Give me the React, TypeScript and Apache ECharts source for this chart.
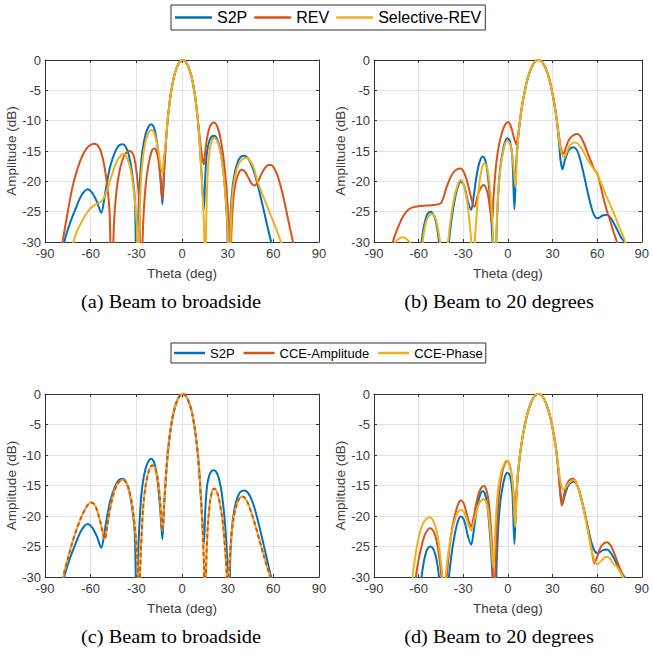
import React, { useEffect, useRef } from "react";
import * as echarts from "echarts";

type P = [number, number];

// ---------- axis ranges / ticks ----------
const thetaRange = { min: -90, max: 90, step: 30 };
const ampRange = { min: -30, max: 0, step: 5 };

// ---------- legends & captions ----------
const legendTopNames = ["S2P", "REV", "Selective-REV"];
const legendBottomNames = ["S2P", "CCE-Amplitude", "CCE-Phase"];
const captions = [
  "(a) Beam to broadside",
  "(b) Beam to 20 degrees",
  "(c) Beam to broadside",
  "(d) Beam to 20 degrees",
];

// ---------- main lobes (shared) ----------
const mainLobeBroadside: P[] = [
  [-10.5, -13.3], [-9.5, -10.1], [-8.5, -7.8], [-7.5, -5.8], [-5.5, -3.0], [-3.5, -1.3],
  [-1.5, -0.3], [0.5, 0], [2.5, -0.3], [4.5, -1.3], [6.5, -3.0], [8.5, -5.8], [9.5, -7.8], [10.5, -10.1],
];
const mainLobe20: P[] = [
  [7.5, -11.3], [8.5, -9.3], [9.5, -7.6], [10.5, -6.2], [12.5, -3.8], [14.5, -2.1], [16.5, -0.9],
  [18.5, -0.2], [20.3, 0], [22.5, -0.2], [24.5, -0.9], [26.5, -2.1], [28.5, -3.8], [30.5, -6.2],
];

// ---------- broadside (a, c) ----------
const s2pBroadLeft: P[] = [
  [-80, -35], [-77.3, -30], [-74, -27.2], [-70, -24.6], [-66, -22.3], [-62, -21.3], [-59, -21.9],
  [-56, -23.3], [-53, -25.2], [-51, -22.8], [-49, -19.8], [-47, -17.4], [-44, -15.2], [-41.5, -14.1],
  [-39, -13.9], [-37, -14.3], [-35, -15.6], [-33, -18.2], [-31, -23], [-29.6, -40], [-28.6, -25],
  [-27.3, -18.5], [-26, -15], [-24, -12.3], [-22, -11], [-20.2, -10.6], [-18.5, -11.1], [-17, -12.6],
  [-15.5, -15.5], [-14, -20], [-12.9, -23.8], [-11.8, -18.5],
];
const s2pBroadRight: P[] = [
  [11.5, -13.3], [12.5, -17.3], [13.5, -21.5], [14.4, -24.6], [15.3, -19], [16.5, -15], [18, -13.3],
  [19.5, -12.6], [21, -12.5], [22.5, -12.8], [24, -13.7], [25.5, -15.3], [27, -18], [28.5, -22],
  [29.8, -28], [30.7, -42], [31.6, -28], [32.8, -22], [34.5, -18.8], [36.5, -16.9], [38.5, -16],
  [41, -15.8], [43, -16.1], [45, -16.9], [47, -18.2], [49, -19.9], [51, -21.9], [53, -24], [55, -26.2],
  [57, -28.4], [59, -30.5], [61, -33],
];
const revBroadLeft: P[] = [
  [-80, -34], [-78.4, -30], [-75, -25], [-72, -21], [-69, -18.2], [-66, -16.1], [-63, -14.7],
  [-60, -14.0], [-57.3, -13.8], [-55, -14.2], [-53, -15.3], [-51, -17.5], [-49, -21], [-47.5, -25.5],
  [-46.2, -40], [-44.7, -27], [-43, -21.5], [-41, -18.3], [-39, -16.4], [-37, -15.4], [-34.4, -15.0],
  [-32, -15.6], [-30.5, -17.3], [-29, -20.5], [-28, -24], [-27.2, -40], [-25.5, -27], [-24, -21],
  [-22, -17.2], [-20, -15.1], [-18.4, -14.6], [-17, -14.9], [-15.5, -16.5], [-14, -19.8], [-12.9, -23],
  [-11.8, -18.5],
];
const revBroadRight: P[] = [
  [11.5, -12.5], [12.5, -14.6], [13.5, -16.4], [14.4, -17.2], [15.3, -15], [16.5, -12.8], [18, -11.2],
  [19.5, -10.5], [21, -10.3], [22.5, -10.6], [24, -11.6], [25.5, -13.2], [27, -15.6], [28.5, -19],
  [30, -24], [31, -29], [31.6, -42], [32.4, -29], [33.5, -23.5], [35, -20.5], [37, -18.8], [39, -18.1],
  [41, -18.3], [43, -19.1], [45.5, -20.3], [47.8, -20.7], [50, -20], [52, -18.9], [54.5, -17.8],
  [57, -17.3], [58.5, -17.3], [60.5, -17.8], [62.5, -18.9], [64.5, -20.5], [66.5, -22.5], [68.5, -24.8],
  [70.5, -27.2], [72.5, -29.5], [74, -31.5], [76, -34],
];
const selBroadLeft: P[] = [
  [-74, -34], [-71.3, -30], [-69, -28.2], [-67, -27.2], [-64, -25.8], [-61, -24.7], [-58, -24],
  [-55, -23.6], [-53, -23.3], [-51, -22.6], [-49, -21.3], [-47, -19.7], [-45, -18.1], [-43, -16.8],
  [-40.5, -15.8], [-38.4, -15.5], [-36, -16.2], [-34, -17.8], [-32, -20.8], [-30.5, -24.5],
  [-29.6, -28], [-28.9, -40], [-28.2, -28], [-27.2, -21], [-26, -16.8], [-24, -13.5], [-22, -12],
  [-20.2, -11.5], [-18.5, -11.9], [-17, -13.1], [-15.5, -15], [-14, -17.5], [-12.9, -18.7], [-12, -16.3],
];
const selBroadRight: P[] = [
  [11.5, -13.3], [12.5, -17.3], [13.5, -22], [14.5, -28], [15.1, -42], [15.8, -28], [16.8, -19],
  [18, -15.2], [19.5, -13.4], [21.1, -12.8], [22.5, -13.1], [24, -14], [25.5, -15.6], [27, -18.2],
  [28.5, -22], [30, -28], [31.1, -42], [32, -28], [33.2, -22], [35, -19], [37, -17.3], [39.5, -16.4],
  [42.2, -16.1], [44.5, -16.5], [47, -17.7], [49.5, -19.9], [52, -21.6], [55, -23.5], [58, -25.4],
  [61, -27.3], [64, -29.3], [66, -30.6], [68, -32],
];
const cceBroadLeft: P[] = [
  [-80, -34], [-78, -30], [-75, -27], [-72, -24.3], [-69, -22], [-66, -20.1], [-63, -18.6],
  [-60, -17.8], [-57.5, -18.1], [-55.5, -19.3], [-53.5, -21.1], [-50.7, -23.8], [-49, -21.5],
  [-47.5, -19.2], [-45.5, -16.8], [-43, -15.0], [-40.5, -14.2], [-38.4, -14.1], [-36.5, -14.6],
  [-34.5, -16], [-32.5, -18.6], [-30.5, -23], [-29.2, -28], [-28.4, -42], [-27.5, -29], [-26.9, -25],
  [-25.5, -18.5], [-24, -15.2], [-22, -12.8], [-19.6, -11.7], [-17.5, -12.3], [-16, -13.8],
  [-14.5, -17], [-12.9, -22.4], [-11.8, -18.3],
];
const cceBroadRight: P[] = [
  [11.5, -13.3], [12.5, -17.3], [13.5, -22], [14.4, -28], [15.1, -42], [15.9, -28], [17, -21.5],
  [18.5, -17.5], [20, -15.8], [21.1, -15.5], [22.5, -15.8], [24, -16.9], [25.5, -18.8], [27, -21.5],
  [28.5, -26], [29.4, -30], [30, -42], [30.8, -30], [32, -24.5], [33.5, -21], [35.5, -18.5],
  [37.5, -17.2], [39.6, -16.8], [41.5, -17.1], [43.5, -18], [45.5, -19.4], [47.5, -21], [49.5, -22.7],
  [51.5, -24.5], [53.5, -26.3], [55.5, -28], [58.2, -30.2], [60, -32],
];

// ---------- beam to 20 degrees (b, d) ----------
const s2p20Left: P[] = [
  [-60, -42], [-58.5, -32], [-58, -30], [-57, -28.2], [-56, -26.9], [-54.5, -25.6], [-53, -25.1],
  [-51.8, -25.0], [-50.5, -25.3], [-49, -26.1], [-47.5, -27.8], [-46.3, -30], [-45, -34], [-42.5, -45],
  [-40.5, -33], [-39.6, -30], [-38, -26.5], [-36, -23.4], [-34, -21.2], [-31.8, -20.1], [-30, -20.4],
  [-28.5, -21.5], [-27, -23.2], [-24.7, -24.7], [-23, -22.5], [-21, -19], [-19, -16.8], [-17, -15.9],
  [-15.5, -16.3], [-14, -18], [-12.5, -21.5], [-11, -27], [-10, -32], [-9.1, -45], [-7.8, -30],
  [-6.5, -22], [-5, -17.5], [-3, -14.5], [-1.5, -13.2], [-0.3, -12.9], [1.5, -13.5], [3, -16],
  [4.4, -24.6], [5.5, -17.5], [6.5, -14],
];
const s2p20Right: P[] = [
  [31.5, -7.6], [32.5, -9.3], [33.5, -11.4], [34.5, -14], [35.5, -16.7], [36.7, -18], [38, -16.8],
  [40, -15.3], [42, -14.6], [44.4, -14.4], [46.5, -14.9], [48.5, -16.3], [50.5, -18.3], [52.5, -20.5],
  [54.5, -22.7], [56.5, -24.6], [58.5, -25.8], [60.4, -26.1], [62, -25.9], [64, -25.6], [66.7, -25.5],
  [69, -26], [71, -26.8], [73.3, -27.9], [76, -29.2], [78.9, -30.2], [81, -31.5],
];
const rev20Left: P[] = [
  [-80, -34], [-77.3, -30], [-75, -28.3], [-72.5, -26.8], [-70, -25.6], [-67, -24.7], [-64, -24.3],
  [-60, -24.1], [-55, -24.0], [-50, -23.9], [-47, -23.8], [-45, -23.6], [-43.5, -22.8], [-41.5, -21.2],
  [-39, -19.6], [-36.5, -18.5], [-34, -18], [-31.8, -17.9], [-30, -18.3], [-28, -19.5], [-26, -21.4],
  [-24, -23.4], [-22.4, -24.2], [-20.5, -22.5], [-18.5, -21.2], [-16.2, -20.6], [-14.5, -21.2],
  [-13, -22.8], [-11.5, -25.5], [-10.7, -26.8], [-9.5, -22], [-8, -17.5], [-6, -14], [-4, -12],
  [-2, -10.7], [0, -10.2], [1.5, -10.6], [3, -11.8], [4.5, -13.2], [5.6, -13.9], [6.6, -12.8],
];
const rev20Right: P[] = [
  [31.5, -7.6], [32.5, -9.2], [33.5, -11], [34.5, -12.8], [35.5, -14.4], [37.3, -15.5], [39, -14.4],
  [41, -13.2], [43.5, -12.5], [46.2, -12.2], [48.5, -12.5], [50.5, -13.4], [52.5, -14.6], [54.5, -15.9],
  [56.5, -17.1], [58.5, -18.2], [60, -18.6], [62, -20.4], [64.4, -22.9], [66.5, -24.8], [68.9, -26.6],
  [71, -28.3], [73.3, -30], [75, -31.5],
];
const sel20Left: P[] = [
  [-78, -34], [-75.5, -30], [-73, -29.4], [-70.5, -29.2], [-68, -29.5], [-65.5, -30.3], [-63, -33],
  [-60, -45], [-58, -33], [-57.3, -30], [-56, -27.8], [-54.5, -26.3], [-52.5, -25.5], [-50.7, -25.4],
  [-49, -25.9], [-47.5, -27.2], [-46, -29.3], [-45.1, -31], [-43.5, -40], [-41.5, -33], [-40.2, -30],
  [-38.5, -26.3], [-36.5, -23.2], [-34, -20.8], [-31.8, -19.8], [-30, -20.3], [-28.5, -21.8],
  [-27, -24], [-25.5, -27.5], [-24.5, -30.5], [-23.5, -42], [-22.2, -30], [-21, -25.5], [-19.5, -21],
  [-17.5, -17.9], [-15.8, -17.0], [-14, -17.7], [-12.5, -20], [-11, -24.5], [-10, -29], [-9.1, -42],
  [-7.8, -29], [-6.5, -22], [-5, -17.8], [-3, -14.9], [-1.5, -13.6], [-0.5, -13.3], [1.5, -13.9],
  [3, -15.8], [4.2, -18.7], [5.1, -21], [6, -16], [6.8, -13.2],
];
const sel20Right: P[] = [
  [31.5, -7.6], [32.5, -9.3], [33.5, -11.2], [34.5, -13.2], [35.5, -14.8], [37.8, -16.1], [39.5, -15.2],
  [41.5, -14.2], [43.5, -13.7], [45.6, -13.6], [47.5, -13.9], [49.5, -14.6], [52, -15.7], [54.5, -16.8],
  [57, -17.7], [60, -18.8], [63, -20.5], [66, -22.3], [69, -24], [71.1, -25.2], [74, -27], [76.5, -28.5],
  [78.9, -30], [81, -31.5],
];
const cceAmp20Left: P[] = [
  [-64, -40], [-61.8, -30], [-60, -27.2], [-58, -24.9], [-56, -23.2], [-54, -22.3], [-52.4, -22.0],
  [-50.5, -22.3], [-48.5, -23.5], [-47, -25.3], [-45.5, -28], [-44.7, -30], [-43.3, -40], [-42, -33],
  [-41.1, -30], [-39.5, -25.8], [-37.5, -22], [-35, -19.3], [-33, -17.8], [-31.8, -17.4], [-30, -17.8],
  [-28.5, -18.8], [-27, -20.3], [-24.7, -21.8], [-23, -20.2], [-21, -17.6], [-19, -15.9], [-16.2, -15.1],
  [-14.5, -15.7], [-13, -17.5], [-11.5, -21.5], [-10.3, -27], [-9.4, -40], [-8.3, -28], [-7, -20],
  [-5.5, -15.5], [-3.5, -12.5], [-1.5, -11.2], [-0.5, -11.0], [1, -11.5], [2.5, -13.2], [3.8, -16.5],
  [4.9, -21.5], [5.8, -16.5], [6.6, -13.5],
];
const cceAmp20Right: P[] = [
  [31.5, -7.6], [32.5, -9.3], [33.5, -11.4], [34.5, -14], [35.3, -16.5], [36.2, -18.3], [37.2, -17.3],
  [38.5, -15.6], [40.5, -14.4], [42, -14], [43.8, -13.9], [45.5, -14.3], [47.5, -15.6], [49.5, -17.3],
  [52.2, -20.2], [54.5, -23], [56.5, -25.8], [58.2, -27.8], [60, -26.7], [62, -25.3], [64, -24.6],
  [66.7, -24.3], [69, -24.8], [71, -25.8], [73, -27.1], [75, -28.4], [77, -29.6], [78.9, -30.8], [81, -32],
];
const ccePh20Left: P[] = [
  [-66, -40], [-64, -30], [-62, -26.2], [-60, -23.6], [-58, -21.8], [-56, -20.8], [-54, -20.3],
  [-52.4, -20.2], [-50.5, -20.6], [-48.5, -21.9], [-47, -23.6], [-45.5, -26.5], [-44, -30], [-43, -40],
  [-42.5, -34], [-41.8, -30], [-40, -26], [-38, -23], [-35.5, -20.5], [-33.5, -19.3], [-31.3, -19.0],
  [-29.5, -19.4], [-28, -20.3], [-26.5, -21.5], [-24.7, -22.4], [-23, -21.1], [-21, -19.1], [-19, -17.8],
  [-16.2, -17.2], [-14.5, -17.8], [-13, -19.6], [-11.7, -23], [-10.5, -27], [-9.8, -28.5], [-9, -25.5],
  [-8, -20], [-6.5, -15.5], [-4.5, -12.8], [-2.5, -11.4], [-1, -10.9], [0.5, -11.2], [2, -12.5],
  [3.5, -15.3], [4.9, -21.8], [5.8, -16.3], [6.6, -13.4],
];
const ccePh20Right: P[] = [
  [31.5, -7.6], [32.5, -9.3], [33.5, -11.2], [34.5, -13], [35.5, -14.6], [37.3, -15.7], [39, -15.3],
  [41, -14.6], [44, -14.1], [46, -14.6], [48, -16], [50, -17.8], [52.2, -20.5], [54.5, -23.4],
  [56.5, -25.8], [58.5, -27.5], [60.4, -27.9], [62.5, -27.4], [64.5, -26.9], [66.7, -26.7], [69, -27.1],
  [71, -27.9], [73, -28.2], [75, -29.0], [77.8, -30.2], [80, -31.5],
];

const BLUE = "#0072BD";
const RED = "#D95319";
const YELLOW = "#EDB120";
const AX = "#333333";
const LABEL = "#3c3c3c";
const FONT = "'Liberation Sans', Arial, Helvetica, sans-serif";

const grids = [
  { left: 45, top: 60, width: 274, height: 182 },
  { left: 374, top: 60, width: 273, height: 182 },
  { left: 45, top: 394, width: 274, height: 183 },
  { left: 374, top: 394, width: 273, height: 183 },
];

function lineSeries(name: string, data: P[], color: string, g: number, dashed = false) {
  return {
    type: "line",
    name,
    data,
    xAxisIndex: 2 * g,
    yAxisIndex: 2 * g,
    symbol: "none",
    smooth: 0.3,
    clip: true,
    lineStyle: { color, width: 2, type: dashed ? [4, 3] : "solid" },
    itemStyle: { color },
    emphasis: { disabled: true },
  };
}

export default function App() {
  const ref = useRef<HTMLDivElement>(null);
  useEffect(() => {
    document.body.style.margin = "0";
    if (!ref.current) return;
    const chart = echarts.init(ref.current, undefined, { renderer: "svg" });

    const xAxes: any[] = [];
    const yAxes: any[] = [];
    grids.forEach((_, g) => {
      xAxes.push({
        type: "value", gridIndex: g, position: "bottom",
        min: thetaRange.min, max: thetaRange.max, interval: thetaRange.step,
        name: "Theta (deg)", nameLocation: "middle", nameGap: 24,
        nameTextStyle: { fontSize: 13.5, color: LABEL, fontFamily: FONT, fontWeight: "normal" },
        axisLine: { show: true, onZero: false, lineStyle: { color: AX, width: 1 } },
        axisTick: { show: true, inside: true, length: 3, lineStyle: { color: AX } },
        axisLabel: { fontSize: 13, color: LABEL, fontFamily: FONT, margin: 5 },
        splitLine: { show: true, lineStyle: { color: "#e3e3e3", width: 1 } },
      });
      xAxes.push({
        type: "value", gridIndex: g, position: "top",
        min: thetaRange.min, max: thetaRange.max, interval: thetaRange.step,
        axisLine: { show: true, onZero: false, lineStyle: { color: AX, width: 1 } },
        axisTick: { show: true, inside: true, length: 3, lineStyle: { color: AX } },
        axisLabel: { show: false },
        splitLine: { show: false },
      });
      yAxes.push({
        type: "value", gridIndex: g, position: "left",
        min: ampRange.min, max: ampRange.max, interval: ampRange.step,
        name: "Amplitude (dB)", nameLocation: "middle", nameGap: 24,
        nameTextStyle: { fontSize: 13.5, color: LABEL, fontFamily: FONT, fontWeight: "normal" },
        axisLine: { show: true, onZero: false, lineStyle: { color: AX, width: 1 } },
        axisTick: { show: true, inside: true, length: 3, lineStyle: { color: AX } },
        axisLabel: { fontSize: 13, color: LABEL, fontFamily: FONT, margin: 4 },
        splitLine: { show: true, lineStyle: { color: "#e3e3e3", width: 1 } },
      });
      yAxes.push({
        type: "value", gridIndex: g, position: "right",
        min: ampRange.min, max: ampRange.max, interval: ampRange.step,
        axisLine: { show: true, onZero: false, lineStyle: { color: AX, width: 1 } },
        axisTick: { show: true, inside: true, length: 3, lineStyle: { color: AX } },
        axisLabel: { show: false },
        splitLine: { show: false },
      });
    });

    const s2pBroad = [...s2pBroadLeft, ...mainLobeBroadside, ...s2pBroadRight];
    const revBroad = [...revBroadLeft, ...mainLobeBroadside, ...revBroadRight];
    const selBroad = [...selBroadLeft, ...mainLobeBroadside, ...selBroadRight];
    const cceBroad = [...cceBroadLeft, ...mainLobeBroadside, ...cceBroadRight];
    const s2p20 = [...s2p20Left, ...mainLobe20, ...s2p20Right];
    const rev20 = [...rev20Left, ...mainLobe20, ...rev20Right];
    const sel20 = [...sel20Left, ...mainLobe20, ...sel20Right];
    const cceAmp20 = [...cceAmp20Left, ...mainLobe20, ...cceAmp20Right];
    const ccePh20 = [...ccePh20Left, ...mainLobe20, ...ccePh20Right];

    const series = [
      lineSeries("S2P", s2pBroad, BLUE, 0),
      lineSeries("REV", revBroad, RED, 0),
      lineSeries("Selective-REV", selBroad, YELLOW, 0),
      lineSeries("S2P", s2p20, BLUE, 1),
      lineSeries("REV", rev20, RED, 1),
      lineSeries("Selective-REV", sel20, YELLOW, 1),
      lineSeries("S2P", s2p20, BLUE, 3),
      lineSeries("CCE-Amplitude", cceAmp20, RED, 3),
      lineSeries("CCE-Phase", ccePh20, YELLOW, 3),
      lineSeries("S2P", s2pBroad, BLUE, 2),
      lineSeries("CCE-Phase", cceBroad, YELLOW, 2),
      lineSeries("CCE-Amplitude", cceBroad, RED, 2, true),
    ];

    const captionPos = [
      [171, 302], [499, 302], [171, 637], [499, 637],
    ];

    chart.setOption({
      animation: false,
      backgroundColor: "#ffffff",
      grid: grids,
      xAxis: xAxes,
      yAxis: yAxes,
      legend: [
        {
          data: legendTopNames,
          left: 171, top: 5, orient: "horizontal", icon: "rect",
          padding: [4, 4, 4, 4], itemGap: 7, itemWidth: 37, itemHeight: 2.5,
          borderColor: AX, borderWidth: 1, backgroundColor: "#fff",
          textStyle: { fontSize: 16, color: "#000", fontFamily: FONT, lineHeight: 17 },
          selectedMode: false,
        },
        {
          data: legendBottomNames,
          left: 171, top: 343, orient: "horizontal", icon: "rect",
          padding: [3, 3, 3, 3], itemGap: 9, itemWidth: 31, itemHeight: 2.5,
          borderColor: AX, borderWidth: 1, backgroundColor: "#fff",
          textStyle: { fontSize: 13, color: "#000", fontFamily: FONT, lineHeight: 14 },
          selectedMode: false,
        },
      ],
      graphic: captions.map((t, i) => ({
        type: "text",
        x: captionPos[i][0],
        y: captionPos[i][1],
        scaleX: 1.13,
        silent: true,
        style: {
          text: t,
          fontSize: 18,
          fontFamily: "'Liberation Serif', 'Times New Roman', serif",
          fill: "#000",
          textAlign: "center",
          textVerticalAlign: "middle",
          align: "center",
          verticalAlign: "middle",
        },
      })),
      series,
    });
    return () => chart.dispose();
  }, []);
  return <div ref={ref} style={{ width: 652, height: 655 }} />;
}
